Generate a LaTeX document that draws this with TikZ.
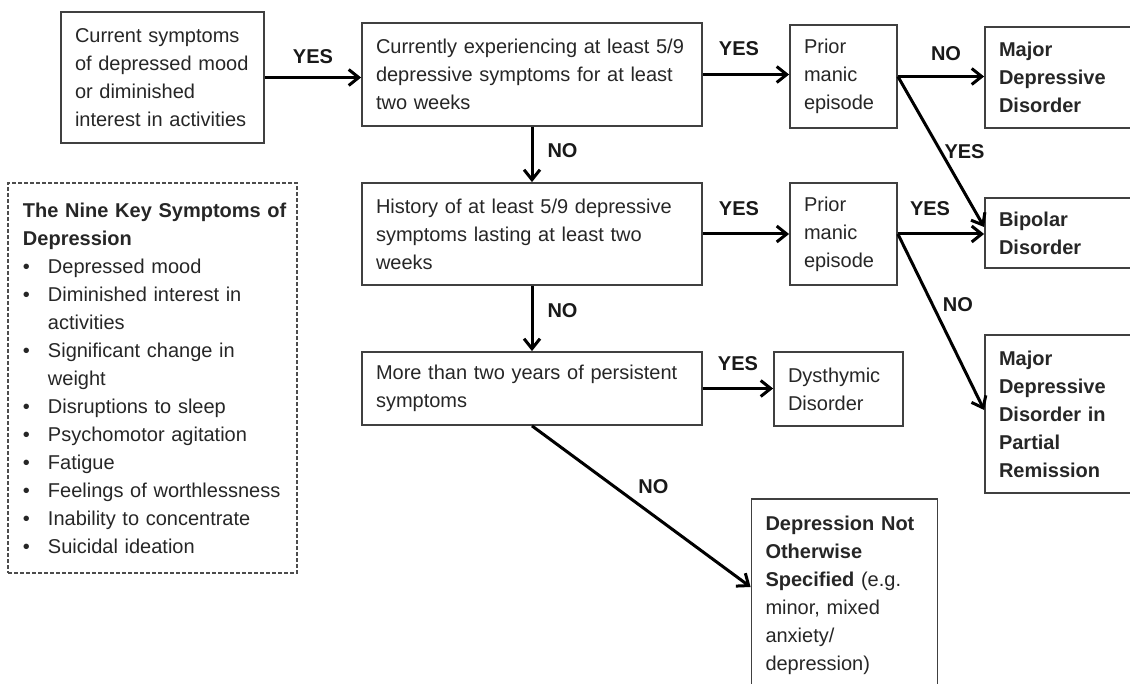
\documentclass[tikz,border=0pt]{standalone}
\usepackage{fontspec}
\setmainfont{Liberation Sans}
\usetikzlibrary{positioning, arrows.meta}
\newcommand{\chartfont}{\fontsize{10}{14}\selectfont}
\newcommand{\symitem}[1]{\par\hangindent=12.5pt\hangafter=1\noindent\makebox[12.5pt][l]{\textbullet}#1}
\tikzset{
    box/.style={rectangle, draw=black!75, line width=0.9pt, align=left, inner xsep=7pt, inner ysep=0pt, text=black!85, font=\chartfont},
    result/.style={box, font=\chartfont\bfseries},
    legend/.style={rectangle, draw=black!70, line width=0.7pt, dash pattern=on 2pt off 1pt, align=left, inner xsep=7.5pt, inner ysep=0pt, text=black!85, font=\chartfont},
    lbl/.style={font=\chartfont\bfseries, inner sep=0pt, text=black!90},
    arrow/.style={-{Straight Barb[length=5pt, width=8pt]}, line width=1.5pt},
}
\begin{document}
\begin{tikzpicture}[x=0.5pt, y=-0.5pt]
    \useasboundingbox (0,0) rectangle (1130,684);
    \clip (0,0) rectangle (1130,684);

    % Domande
    \node[box, minimum width=101.5pt, minimum height=65.5pt, text width=87.5pt] (start) at (162.5,77.5)
        {Current symptoms\\of depressed mood\\or diminished\\interest in activities};
    \node[box, minimum width=170pt, minimum height=51.5pt, text width=156pt] (current) at (532,74.5)
        {Currently experiencing at least 5/9\\depressive symptoms for at least\\two weeks};
    \node[box, minimum width=170pt, minimum height=51pt, text width=156pt] (history) at (532,234)
        {History of at least 5/9 depressive\\symptoms lasting at least two\\weeks};
    \node[box, minimum width=170pt, minimum height=36.5pt, text width=156pt] (twoyears) at (532,388.5)
        {More than two years of persistent\\symptoms};
    \node[box, minimum width=53.5pt, minimum height=51.5pt, text width=39.5pt] (manicA) at (843.5,76.5)
        {Prior\\manic\\episode};
    \node[box, minimum width=53.5pt, minimum height=51pt, text width=39.5pt] (manicB) at (843.5,234)
        {Prior\\manic\\episode};

    % Diagnosi
    \node[result, minimum width=85pt, minimum height=50.5pt, text width=71pt] (mdd) at (1070,77.5)
        {Major\\Depressive\\Disorder};
    \node[result, minimum width=85pt, minimum height=35pt, text width=71pt] (bipolar) at (1070,233)
        {Bipolar\\Disorder};
    \node[result, minimum width=85pt, minimum height=79pt, text width=71pt] (partial) at (1070,414)
        {Major\\Depressive\\Disorder in\\Partial\\Remission};
    \node[box, minimum width=64.5pt, minimum height=37pt, text width=50.5pt] (dysthymic) at (838.5,389)
        {Dysthymic\\Disorder};
    \node[box, anchor=north, inner ysep=8.5pt, minimum width=92.5pt, text width=79pt] (nos) at (844.5,498)
        {\textbf{Depression Not}\\\textbf{Otherwise}\\\textbf{Specified} (e.g.\\minor, mixed\\anxiety/\\depression)};

    % Legenda sintomi
    \node[legend, minimum width=144.5pt, minimum height=195pt, text width=129.5pt] (symptoms) at (152.5,378)
        {\hyphenpenalty=10000\exhyphenpenalty=10000
         \textbf{\mbox{The Nine Key Symptoms of}}\\\textbf{Depression}
         \symitem{Depressed mood}
         \symitem{Diminished interest in activities}
         \symitem{Significant change in weight}
         \symitem{Disruptions to sleep}
         \symitem{Psychomotor agitation}
         \symitem{Fatigue}
         \symitem{\mbox{Feelings of worthlessness}}
         \symitem{Inability to concentrate}
         \symitem{Suicidal ideation}};

    % Frecce
    \draw[arrow] (start.east) -- (start.east -| current.west)
        node[lbl, midway, above=6pt] {YES};
    \draw[arrow] (current.east) -- (current.east -| manicA.west)
        node[lbl, midway, above=8.5pt, xshift=-3.5pt] {YES};
    \draw[arrow] (manicA.east) -- (manicA.east -| mdd.west)
        node[lbl, midway, above=7pt, xshift=2.5pt] {NO};
    \draw[arrow] (manicA.east) -- ([yshift=3pt]bipolar.west)
        node[lbl, pos=0.5, anchor=west, xshift=1pt] {YES};
    \draw[arrow] (current.south) -- (history.north)
        node[lbl, midway, anchor=west, xshift=7pt, yshift=2pt] {NO};
    \draw[arrow] (history.east) -- (history.east -| manicB.west)
        node[lbl, midway, above=8.5pt, xshift=-3.5pt] {YES};
    \draw[arrow] (manicB.east) -- (manicB.east -| bipolar.west)
        node[lbl, midway, above=8.5pt, xshift=-5.5pt] {YES};
    \draw[arrow] (manicB.east) -- ([yshift=2pt]partial.west)
        node[lbl, pos=0.4, anchor=west, xshift=4.5pt] {NO};
    \draw[arrow] (history.south) -- (twoyears.north)
        node[lbl, midway, anchor=west, xshift=7pt, yshift=4pt] {NO};
    \draw[arrow] (twoyears.east) -- (twoyears.east -| dysthymic.west)
        node[lbl, midway, above=8pt] {YES};
    \draw[arrow] (twoyears.south) -- ([yshift=-44.5pt]nos.north west)
        node[lbl, pos=0.48, anchor=south west, yshift=4pt] {NO};
\end{tikzpicture}
\end{document}
